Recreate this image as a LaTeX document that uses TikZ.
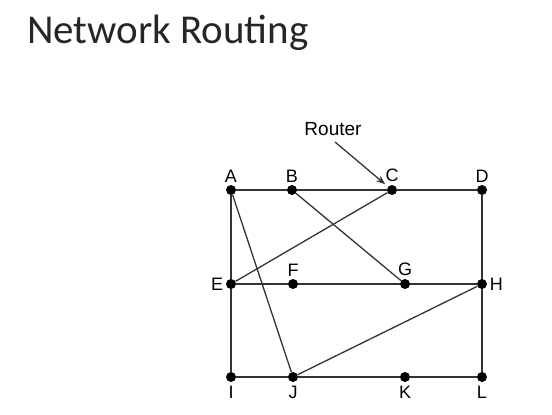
\documentclass[tikz,border=0pt]{standalone}
\usepackage{fontspec}
\usetikzlibrary{arrows.meta}
\setmainfont{Liberation Sans}
\newfontfamily\titlefont{Carlito}
\begin{document}
\begin{tikzpicture}[x=1pt,y=-1pt,
  router/.style={circle,fill=black,inner sep=0pt,minimum size=10pt},
  link/.style={draw=black!80,line width=1.3pt},
  lbl/.style={font=\fontsize{18}{18}\selectfont,inner sep=1pt,label distance=1.5pt}]
\useasboundingbox (0,0) rectangle (552,415);
\node[anchor=base west,inner sep=0pt,text=black!85,font=\titlefont\fontsize{41}{41}\selectfont] (title) at (27,43) {Network Routing};
\node[router,label={[lbl]above:A}] (A) at (231,190) {};
\node[router,label={[lbl]above:B}] (B) at (292,190) {};
\node[router,label={[lbl]above:C}] (C) at (392,190) {};
\node[router,label={[lbl]above:D}] (D) at (482,190) {};
\node[router,label={[lbl]left:E}] (E) at (231,284) {};
\node[router,label={[lbl]above:F}] (F) at (293,284) {};
\node[router,label={[lbl]above:G}] (G) at (405,284) {};
\node[router,label={[lbl]right:H}] (H) at (482,284) {};
\node[router,label={[lbl,label distance=3pt]below:I}] (I) at (231,377) {};
\node[router,label={[lbl,label distance=3pt]below:J}] (J) at (293,377) {};
\node[router,label={[lbl,label distance=3pt]below:K}] (K) at (405,377) {};
\node[router,label={[lbl,label distance=3pt]below:L}] (L) at (482,377) {};
\node[lbl,font=\fontsize{19}{19}\selectfont] (router) at (333,129) {Router};
\coordinate (rtail) at (335,142);
\draw[link] (A) -- (B) -- (C) -- (D);
\draw[link] (E) -- (F) -- (G) -- (H);
\draw[link] (I) -- (J) -- (K) -- (L);
\draw[link] (A) -- (E) -- (I);
\draw[link] (D) -- (H) -- (L);
\draw[link] (A) -- (J);
\draw[link] (B) -- (G);
\draw[link] (C) -- (E);
\draw[link] (H) -- (J);
\draw[link,-{Stealth[length=9pt,width=7pt]},shorten >=9pt] (rtail) -- (C.center);
\end{tikzpicture}
\end{document}
